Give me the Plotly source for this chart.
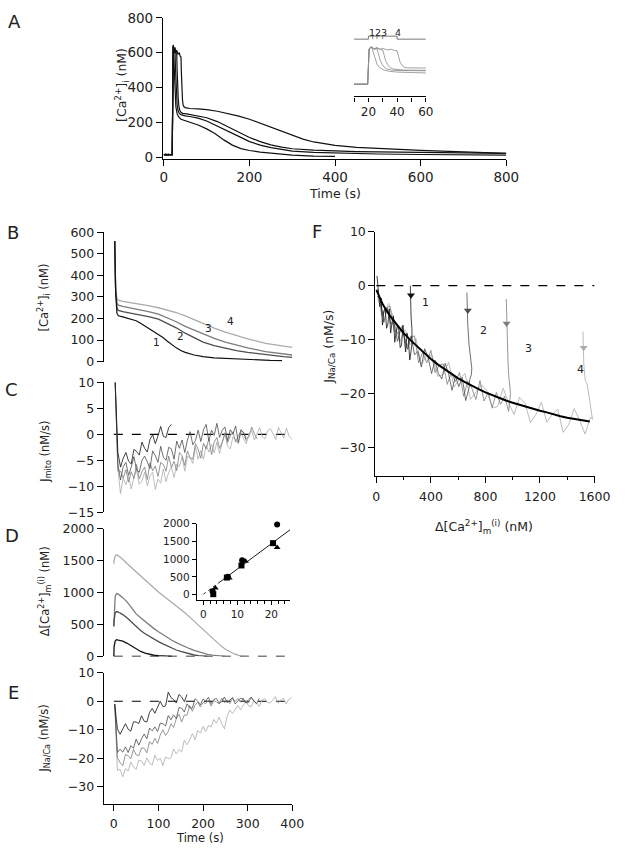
import numpy as np
import plotly.graph_objects as go

W, H = 628, 853
FONT = "DejaVu Sans"
K1, K2, K3, K4 = '#111111', '#4d4d4d', '#7c7c7c', '#ababab'

# ---------------------------------------------------- panel A: [Ca2+]i, 4 pulses
a1_t = [0, 5, 10, 15, 19.5, 20.5, 21.5, 22.5, 23.5, 24.5, 26, 28, 31, 35, 40, 50, 60, 80, 100,
        120, 140, 160, 180, 200, 225, 250, 275, 300, 350, 400]
a1_v = [15, 12, 18, 14, 15, 600, 640, 615, 540, 440, 350, 290, 250, 230, 218, 210, 203, 185, 163,
        135, 100, 70, 50, 39, 30, 24, 17, 12, 7, 5]
a2_t = [0, 5, 10, 15, 19.5, 20.5, 22, 24, 26, 27, 28, 29.5, 31, 33, 36, 40, 45, 50, 60, 80, 100,
        125, 150, 175, 200, 225, 250, 275, 300, 350, 400, 500, 600, 700, 800]
a2_v = [15, 18, 12, 16, 14, 605, 630, 600, 610, 520, 430, 350, 300, 270, 252, 245, 240, 238, 234,
        225, 208, 180, 152, 120, 90, 70, 56, 45, 36, 28, 24, 19, 16, 14, 13]
a3_t = [0, 5, 10, 15, 19.5, 20.5, 22, 24, 26, 28, 30, 31, 32, 33.5, 35, 37, 40, 44, 50, 60, 80,
        100, 125, 150, 175, 200, 225, 250, 275, 300, 350, 400, 450, 500, 550, 600, 700, 800]
a3_v = [15, 13, 17, 14, 16, 610, 640, 605, 620, 600, 590, 500, 410, 340, 295, 270, 258, 252, 250,
        246, 238, 227, 205, 176, 145, 114, 90, 71, 58, 49, 41, 36, 33, 31, 29, 28, 25, 22]
a4_t = [0, 5, 10, 15, 19.5, 20.5, 22, 24, 26, 28, 30, 33, 36, 38, 40, 41, 42, 43.5, 45, 47, 50,
        55, 60, 80, 100, 125, 150, 175, 200, 225, 250, 275, 300, 325, 350, 400, 450, 500, 550,
        600, 650, 700, 750, 800]
a4_v = [15, 17, 13, 16, 14, 600, 645, 610, 630, 600, 615, 590, 600, 580, 575, 480, 390, 330, 300,
        290, 285, 282, 280, 278, 274, 264, 251, 236, 218, 195, 171, 147, 124, 104, 88, 68, 57,
        50, 45, 40, 35, 30, 26, 23]

# inset stimulus bar
stim_t = [10, 20, 20, 40, 40, 60]
stim_v = [770, 770, 820, 820, 770, 770]
pulse_end = [23, 26, 30, 40]
pulse_lbl_t = [22.6, 26.9, 31.2, 40.4]
pulse_lbl = ['1', '2', '3', '4']

# ---------------------------------------------------- panel B: declining phase
b1_t = [2, 4, 7, 10, 20, 30, 40, 50, 60, 70, 80, 90, 100, 110, 120, 130, 140, 150, 160, 180, 200,
        225, 250, 275, 300, 325, 350, 377]
b1_v = [560, 320, 225, 213, 208, 203, 198, 190, 178, 165, 152, 140, 127, 112, 95, 78, 64, 52, 43,
        31, 23, 18, 15, 12, 10, 8, 6, 5]
b_t = [2, 4, 7, 10, 20, 40, 60, 80, 100, 120, 140, 160, 180, 200, 225, 250, 275, 300, 340, 380, 400]
b2_v = [560, 330, 250, 238, 232, 225, 217, 208, 197, 178, 157, 132, 110, 91, 74, 61, 51, 43, 32, 23, 20]
b3_v = [560, 335, 270, 262, 256, 248, 240, 231, 220, 203, 185, 164, 146, 129, 108, 91, 76, 64, 47, 35, 31]
b4_v = [560, 340, 292, 285, 280, 274, 267, 259, 250, 240, 228, 212, 194, 175, 156, 137, 120, 106, 85, 70, 66]
b_lbl_t = [95, 149, 212, 262]
b_lbl_v = [91, 117, 155, 190]

# ---------------------------------------------------- panel C: J_mito, sampled every 6 s from t=3
c1 = [10, -3.5, -6.3, -4.6, -3.5, -5.2, -5.7, -2.9, -3.3, -4.0, -1.5, -2.7, -3.4, -1.0, -0.1, -1.8,
      -0.3, 1.5, -0.4, -0.6, 1.3, 1.9]
c2 = [10, -5.7, -8.8, -6.2, -5.4, -7.9, -6.3, -4.3, -6.9, -7.3, -5.0, -4.2, -5.3, -6.6, -3.2, -4.1,
      -5.4, -2.3, -4.4, -5.0, -2.5, -2.8, -4.8, -1.3, -2.7, -1.1, -3.5, -1.1, 0.5, -2.0, -1.2, 0.8,
      -1.4, 0.9, 1.9, -1.3, 0.8, -0.2, 2.1, -0.6, 0.8, 1.4, -1.2, 0.9, 0.0, 1.6, -1.6, 0.9, 0.2, -1.2]
c3 = [10, -7.0, -7.1, -8.4, -6.8, -9.2, -7.2, -8.5, -5.8, -8.6, -7.2, -6.3, -8.7, -5.5, -7.0, -6.1,
      -8.1, -5.4, -5.8, -7.1, -4.2, -6.4, -5.2, -7.0, -3.5, -4.1, -6.0, -3.2, -4.5, -4.8, -1.8, -2.9,
      -4.6, -1.7, -2.8, -0.9, -3.9, -1.5, -0.6, -2.7, -1.5, 0.3, -1.6, -0.3, 0.5, -1.5, -0.3, 0.7,
      0.4, -0.8, -0.5, 1.4, 0.1, -0.9]
c4 = [10, -6.7, -11.4, -8.4, -9.7, -8.1, -10.5, -8.3, -6.9, -9.6, -9.0, -7.3, -9.9, -8.0, -7.3,
      -10.6, -8.6, -9.4, -6.7, -9.1, -7.3, -6.3, -8.3, -5.7, -6.2, -4.3, -7.1, -4.2, -4.6, -5.6,
      -2.4, -4.8, -3.1, -4.8, -2.1, -3.4, -1.9, -3.6, -1.5, -3.7, -1.6, 0.0, -2.3, -2.8, -0.5, -1.0,
      -1.8, 0.3, -0.9, -1.8, 0.2, 0.7, -1.1, 0.0, 1.3, -0.5, -0.9, 0.7, 1.1, 0.1, -1.0, 1.3, 0.4,
      -0.7, 1.2, -0.4, -1.0]

# ---------------------------------------------------- panel D: delta [Ca2+]m
d1_t = [0, 0.5, 3, 6, 10, 20, 30, 40, 50, 60, 70, 80, 90, 100, 115, 130]
d1_v = [0, 150, 240, 262, 255, 240, 205, 160, 115, 77, 50, 30, 18, 10, 3, 0]
d2_t = [0, 0.5, 3, 6, 10, 20, 30, 40, 50, 60, 70, 80, 90, 100, 110, 120, 130, 140, 150, 160, 170,
        180, 190, 200, 210]
d2_v = [470, 560, 680, 702, 695, 655, 600, 530, 461, 405, 355, 310, 268, 231, 195, 160, 128, 100,
        77, 56, 38, 22, 11, 4, 0]
d3_t = [0, 0.5, 3, 6, 10, 20, 30, 40, 50, 60, 70, 80, 90, 100, 110, 120, 130, 140, 150, 160, 170,
        180, 190, 200, 210, 220, 230, 240, 250]
d3_v = [470, 600, 940, 985, 975, 920, 850, 760, 666, 605, 545, 490, 435, 385, 338, 295, 252, 215,
        180, 150, 120, 94, 70, 50, 33, 20, 10, 4, 0]
d4_t = [0, 0.5, 3, 6, 10, 20, 30, 40, 50, 60, 70, 80, 90, 100, 110, 120, 130, 140, 150, 160, 170,
        180, 190, 200, 210, 220, 230, 240, 250, 260, 270, 280, 290, 300]
d4_v = [1450, 1500, 1570, 1590, 1575, 1520, 1450, 1385, 1320, 1250, 1190, 1130, 1070, 1010, 955,
        900, 850, 790, 740, 680, 615, 550, 485, 420, 355, 290, 225, 165, 112, 70, 38, 17, 5, 0]

# D inset: delta[Ca]m peak vs pulse duration
sq_x, sq_y = [2.9, 6.9, 11.2, 20.5], [10, 480, 822, 1453]
ci_x, ci_y = [2.7, 7.2, 11.4, 21.7], [90, 500, 972, 1980]
tr_x, tr_y = [3.5, 7.6, 12.4, 21.7], [183, 470, 944, 1333]
fit_lo_x, fit_lo_y = [0, 4.5], [10, 330]
fit_hi_x, fit_hi_y = [4.5, 25.5], [330, 1830]

# ---------------------------------------------------- panel E: J_Na/Ca, sampled every 6 s from t=2
e1 = [-1.0, -9.7, -11.6, -9.5, -7.9, -9.8, -10.5, -7.2, -7.3, -7.8, -5.1, -7.0, -7.3, -3.9, -2.5,
      -4.2, -2.2, 0.0, -1.9, -1.6, 3.2, 1.3, 0.6, -0.6, 2.4, 1.5, -0.1, 2.4]
e2 = [-1.0, -18.0, -16.8, -17.9, -16.0, -18.0, -15.6, -16.5, -13.3, -15.4, -13.2, -11.5, -13.2,
      -9.4, -10.4, -9.0, -10.6, -7.7, -7.9, -8.7, -5.0, -6.5, -4.8, -6.1, -2.2, -2.4, -3.8, -0.9,
      -2.3, -2.4, 0.9, 0.0, -1.3, 0.8, 0.1, 1.4, -0.8, 0.6, 1.0, -0.7, -0.1, 1.5, -0.5, 0.6, 1.3,
      -0.9, 0.2, 1.1, 0.7, -0.6, -0.4, 1.4, 0.2, -0.9, 1.0]
e3 = [-1.0, -19.9, -21.5, -22.6, -18.7, -19.1, -20.2, -16.9, -18.8, -19.1, -16.4, -16.5, -18.1,
      -14.2, -15.1, -13.0, -14.8, -11.9, -10.0, -12.0, -10.6, -7.9, -9.2, -6.1, -4.5, -7.3, -4.8,
      -4.9, -1.5, -3.5, -1.4, -0.3, -2.0, -0.4, -0.8, 0.4, -1.7, 0.2, -0.2, -1.0, 1.1, -0.6, 0.5,
      -0.8, 1.1, 0.0, 1.0, -0.3, 1.1, -0.6, 0.7, 1.4, 0.0, -0.8]
e4 = [-1.0, -24.3, -23.9, -26.5, -23.7, -24.5, -21.4, -23.1, -23.9, -20.7, -21.0, -22.5, -19.9,
      -21.7, -22.4, -19.0, -20.8, -20.0, -22.6, -19.5, -20.2, -19.8, -16.8, -18.5, -17.0, -17.8,
      -13.7, -15.3, -13.6, -11.4, -13.5, -10.2, -11.2, -8.9, -10.7, -8.5, -9.0, -6.4, -7.7, -5.6,
      -7.9, -9.7, -5.3, -3.1, -4.3, -3.1, -1.5, -3.0, -1.2, 0.1, -1.6, -1.9, 0.2, -0.7, -1.8, 0.3,
      1.0, -0.4, -0.6, 0.4, 1.6, -0.7, 0.1, 1.1, -0.9, 0.6, 1.2]

zero_t = [0, 400]
zero_v = [0, 0]

# ---------------------------------------------------- panel F: J_Na/Ca vs delta[Ca]m
fit_x = [0, 50, 100, 150, 200, 250, 300, 350, 400, 450, 500, 550, 600, 650, 700, 750, 800, 850, 900,
         950, 1000, 1050, 1100, 1150, 1200, 1250, 1300, 1350, 1400, 1450, 1500, 1565]
fit_y = [-0.8, -3.6, -5.6, -7.3, -8.8, -10.1, -11.3, -12.4, -13.6, -14.6, -15.5, -16.4, -17.2, -17.9,
         -18.6, -19.2, -19.8, -20.3, -20.9, -21.3, -21.7, -22.1, -22.5, -22.9, -23.2, -23.5, -23.9,
         -24.2, -24.5, -24.7, -24.9, -25.2]

f4_x = [1515, 1517, 1521, 1532, 1545, 1560, 1575, 1585, 1570, 1530, 1490, 1450, 1410, 1370, 1330,
        1290, 1250, 1210, 1170, 1130, 1090, 1050, 1010, 970, 930, 890, 850, 810, 770, 730, 690, 650,
        610, 570, 530, 490, 450, 410, 370, 330, 290, 250, 210, 170, 130, 90, 50, 10]
f4_y = [-8.5, -11, -14.5, -17.6, -18.2, -20.5, -23.2, -24.8, -24.4, -27.5, -24.9, -22.8, -25.8,
        -27.2, -22.9, -23.9, -25.3, -21.6, -23.9, -25.4, -21.8, -20.7, -23.9, -21.8, -19.0, -22.4,
        -22.7, -19.5, -18.4, -19.7, -21.1, -16.3, -17.3, -18.8, -14.2, -16.5, -16.8, -13.0, -12.8,
        -14.7, -9.8, -10.9, -8.2, -10.5, -6.3, -3.3, -5.3, -2.4]
f3_x = [953, 956, 960, 966, 972, 978, 984, 970, 940, 910, 880, 850, 820, 790, 760, 730, 700, 670,
        640, 610, 580, 550, 520, 490, 460, 430, 400, 370, 340, 310, 280, 250, 220, 190, 160, 130,
        100, 70, 40, 10]
f3_y = [-2.5, -7, -11, -14.7, -17, -18.6, -20, -23.3, -20.5, -22.0, -19.8, -22.6, -19.8, -21.4,
        -17.6, -21.1, -19.0, -17.7, -20.5, -16.1, -17.8, -16.1, -18.3, -14.5, -14.8, -16.1, -12.0,
        -14.3, -12.4, -14.3, -9.3, -9.7, -11.5, -7.5, -8.9, -8.4, -3.8, -4.2, -5.6, -0.6]
f2_x = [664, 666, 670, 680, 692, 700, 697, 685, 680, 655, 630, 605, 580, 555, 530, 505, 480, 455,
        430, 405, 380, 355, 330, 305, 280, 255, 230, 205, 180, 155, 130, 105, 80, 55, 30, 5]
f2_y = [-1.3, -4, -7, -11, -13.5, -15.3, -16.5, -17.4, -19.0, -21.3, -17.0, -18.7, -16.8, -19.4,
        -16.4, -14.4, -17.3, -16.3, -13.8, -16.3, -13.3, -11.7, -15.1, -12.2, -12.8, -9.3, -11.8,
        -9.4, -8.0, -10.3, -6.9, -7.0, -4.1, -6.8, -2.5, -2.0]
f1_x = [249, 250, 252, 255, 261, 262, 255, 245, 235, 225, 215, 205, 195, 185, 175, 165, 155, 145,
        135, 125, 115, 105, 95, 85, 75, 65, 55, 45, 35, 25, 15, 5]
f1_y = [0, -2, -4, -6, -8, -10.5, -12.1, -13.8, -9.9, -8.8, -12.3, -10.1, -7.3, -11.0, -11.5, -8.3,
        -7.3, -8.7, -10.5, -5.6, -6.8, -8.8, -4.3, -7.1, -7.9, -4.2, -4.7, -7.3, -2.3, -3.9, -1.5, 1.8]

f_arrow_x = [254, 671, 955, 1520]
f_arrow_y = [-1.8, -4.6, -7.0, -11.5]
f_lbl_x = [363, 789, 1115, 1500]
f_lbl_y = [-3.2, -8.3, -11.7, -15.6]
f_zero_x = [0, 1600]


def dx(left, right):
    return [left / W, right / W]


def dy(top, bottom):
    return [1 - bottom / H, 1 - top / H]


def axis(dom, rng, anchor, size=12, **kw):
    d = dict(domain=dom, range=rng, anchor=anchor, showline=True, linecolor='black',
             linewidth=1.2, ticks='outside', ticklen=6, tickwidth=1.2, tickcolor='black',
             showgrid=False, zeroline=False,
             tickfont=dict(family=FONT, size=size, color='#222'))
    d.update(kw)
    return d


fig = go.Figure()


def line(x, y, xa, ya, color, width=1.0, dash=None):
    fig.add_trace(go.Scatter(x=x, y=y, mode='lines', xaxis=xa, yaxis=ya,
                             line=dict(color=color, width=width, dash=dash),
                             showlegend=False, hoverinfo='skip'))


# A main + inset
for t, v in [(a1_t, a1_v), (a2_t, a2_v), (a3_t, a3_v), (a4_t, a4_v)]:
    line(t, v, 'x', 'y', K1, 1.2)
for t, v in [(a1_t, a1_v), (a2_t, a2_v), (a3_t, a3_v), (a4_t, a4_v)]:
    line(t, v, 'x2', 'y2', '#8a8a8a', 0.8)
line(stim_t, stim_v, 'x2', 'y2', '#666', 0.9)
tick_x, tick_y = [], []
for p in pulse_end[:3]:
    tick_x += [p, p, None]
    tick_y += [stim_v[0], stim_v[2], None]
line(tick_x, tick_y, 'x2', 'y2', '#666', 0.8)

# B
line(b_t, b4_v, 'x3', 'y3', K4, 1.3)
line(b_t, b3_v, 'x3', 'y3', K3, 1.3)
line(b_t, b2_v, 'x3', 'y3', K2, 1.3)
line(b1_t, b1_v, 'x3', 'y3', K1, 1.2)

# C
line(zero_t, zero_v, 'x4', 'y4', 'black', 1.2, 'dash')
for vals, col in [(c4, K4), (c3, K3), (c2, K2), (c1, K1)]:
    line(3 + 6 * np.arange(len(vals)), vals, 'x4', 'y4', col, 0.8)

# D
line(zero_t, zero_v, 'x5', 'y5', 'black', 1.2, 'dash')
line(d4_t, d4_v, 'x5', 'y5', K4, 1.3)
line(d3_t, d3_v, 'x5', 'y5', K3, 1.3)
line(d2_t, d2_v, 'x5', 'y5', K2, 1.3)
line(d1_t, d1_v, 'x5', 'y5', K1, 1.3)

# D inset
line(fit_lo_x, fit_lo_y, 'x6', 'y6', 'black', 0.8, 'dot')
line(fit_hi_x, fit_hi_y, 'x6', 'y6', 'black', 0.9)
for xs, ys, sym in [(sq_x, sq_y, 'square'), (ci_x, ci_y, 'circle'), (tr_x, tr_y, 'triangle-up')]:
    fig.add_trace(go.Scatter(x=xs, y=ys, mode='markers', xaxis='x6', yaxis='y6', cliponaxis=False,
                             marker=dict(symbol=sym, size=6, color='black'),
                             showlegend=False, hoverinfo='skip'))

# E
line(zero_t, zero_v, 'x7', 'y7', 'black', 1.2, 'dash')
for vals, col in [(e4, K4), (e3, K3), (e2, K2), (e1, K1)]:
    line(2 + 6 * np.arange(len(vals)), vals, 'x7', 'y7', col, 0.8)

# F
line(f_zero_x, [0, 0], 'x8', 'y8', 'black', 1.2, 'dash')
for xs, ys, col in [(f4_x, f4_y, K4), (f3_x, f3_y, K3), (f2_x, f2_y, K2), (f1_x, f1_y, K1)]:
    line(xs, ys, 'x8', 'y8', col, 0.8)
line(fit_x, fit_y, 'x8', 'y8', 'black', 2.0)
fig.add_trace(go.Scatter(x=f_arrow_x, y=f_arrow_y, mode='markers', xaxis='x8', yaxis='y8',
                         marker=dict(symbol='triangle-down', size=7, color=[K1, K2, K3, K4]),
                         showlegend=False, hoverinfo='skip'))

ann = []


def text(xp, yp, s, size=12, angle=0):
    ann.append(dict(x=xp / W, y=1 - yp / H, xref='paper', yref='paper', text=s, showarrow=False,
                    textangle=angle, xanchor='center', yanchor='middle',
                    font=dict(family=FONT, size=size, color='#222')))


for xp, yp, s in [(12, 14, 'A'), (10, 229, 'B'), (9, 388, 'C'), (9, 537, 'D'), (11, 697, 'E'),
                  (324, 227, 'F')]:
    text(xp, yp, s, 18)

text(122, 78, '[Ca<sup>2+</sup>]<sub>i</sub> (nM)', 12.5, -90)
text(342, 189, 'Time (s)', 12.5)
text(42, 295, '[Ca<sup>2+</sup>]<sub>i</sub> (nM)', 11.5, -90)
text(43, 452, 'J<sub>mito</sub> (nM/s)', 11.5, -90)
text(43, 594, 'Δ[Ca<sup>2+</sup>]<sub>m</sub><sup>(i)</sup> (nM)', 11.5, -90)
text(43, 744, 'J<sub>Na/Ca</sub> (nM/s)', 11.5, -90)
text(203, 845, 'Time (s)', 11.5)
text(337, 345, 'J<sub>Na/Ca</sub> (nM/s)', 12.5, -90)
text(496, 528, 'Δ[Ca<sup>2+</sup>]<sub>m</sub><sup>(i)</sup> (nM)', 12.5)

for x, s in zip(pulse_lbl_t, pulse_lbl):
    ann.append(dict(x=x, y=880, xref='x2', yref='y2', text=s, showarrow=False,
                    font=dict(family=FONT, size=9.5, color='#222')))
for x, y, s in zip(b_lbl_t, b_lbl_v, pulse_lbl):
    ann.append(dict(x=x, y=y, xref='x3', yref='y3', text=s, showarrow=False,
                    font=dict(family=FONT, size=10.5, color='#222')))
for x, y, s in zip(f_lbl_x, f_lbl_y, pulse_lbl):
    ann.append(dict(x=x, y=y, xref='x8', yref='y8', text=s, showarrow=False,
                    font=dict(family=FONT, size=11, color='#222')))

minor2 = dict(dtick=2, tick0=0, ticklen=3, ticks='outside', tickcolor='black', tickwidth=1)
minor200 = dict(dtick=200, tick0=0, ticklen=3, ticks='outside', tickcolor='black', tickwidth=1.2)

fig.update_layout(
    width=W, height=H, margin=dict(l=0, r=0, t=0, b=0),
    paper_bgcolor='white', plot_bgcolor='white', showlegend=False,
    annotations=ann,
    xaxis=axis(dx(165, 519), [-2, 800], 'y', 13.5, dtick=200, tick0=0),
    yaxis=axis(dy(10, 153.4), [-8, 800], 'x', 13.5, dtick=200, tick0=0),
    xaxis2=axis(dx(362, 436), [10, 60], 'y2', 12, tickvals=[10, 20, 30, 40, 50, 60],
                ticktext=['', '20', '', '40', '', '60'], ticklen=4),
    yaxis2=dict(domain=dy(23.8, 90), range=[-190, 900], visible=False, anchor='x2'),
    xaxis3=dict(domain=dx(104, 298.3), range=[-22.4, 400], visible=False, anchor='y3'),
    yaxis3=axis(dy(228.3, 360), [0, 600], 'x3', 12.5, dtick=100, tick0=0),
    xaxis4=dict(domain=dx(104, 298.3), range=[-22.4, 400], visible=False, anchor='y4'),
    yaxis4=axis(dy(381, 513.3), [-15, 10], 'x4', 12.5, dtick=5, tick0=0),
    xaxis5=dict(domain=dx(104, 298.3), range=[-22.4, 400], visible=False, anchor='y5'),
    yaxis5=axis(dy(530, 660), [0, 2000], 'x5', 12.5, dtick=500, tick0=0),
    xaxis6=axis(dx(200, 296), [-1.9, 25.5], 'y6', 10.5, dtick=10, tick0=0, minor=minor2, ticklen=4),
    yaxis6=axis(dy(525, 603), [-165, 2000], 'x6', 10.5, tickvals=[0, 500, 1000, 1500, 2000], ticklen=4),
    xaxis7=axis(dx(104, 298.3), [-22.4, 400], 'y7', 12.5, dtick=100, tick0=0, ticklabelstandoff=2),
    yaxis7=axis(dy(676.7, 810), [-36, 10], 'x7', 12.5, dtick=10, tick0=0),
    xaxis8=axis(dx(384, 610), [-7, 1600], 'y8', 12.5, dtick=400, tick0=0, minor=minor200,
                ticklabelstandoff=3),
    yaxis8=axis(dy(227.7, 476.7), [-35.35, 10], 'x8', 12.5, dtick=10, tick0=0),
)

fig.write_html("out.html", config={'displayModeBar': False},
               post_script="document.body.style.margin='0';")
